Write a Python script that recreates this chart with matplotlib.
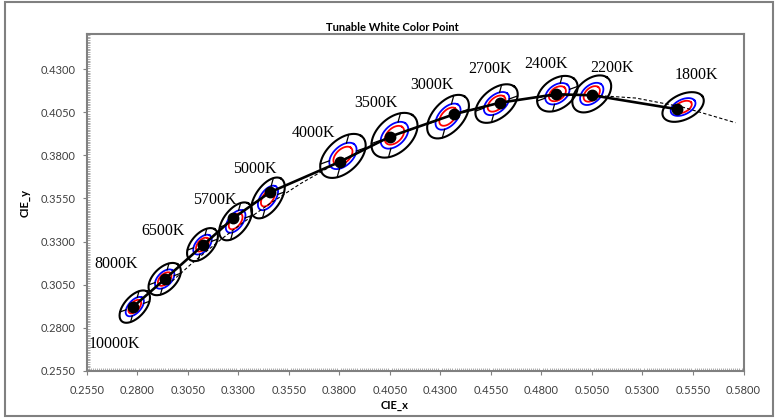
import numpy as np
import matplotlib
matplotlib.use("Agg")
import matplotlib.pyplot as plt
from matplotlib.patches import Rectangle
from matplotlib.ticker import FixedLocator, MultipleLocator, FormatStrFormatter

# CCT targets
cct_labels = ['10000K', '8000K', '6500K', '5700K', '5000K', '4000K',
              '3500K', '3000K', '2700K', '2400K', '2200K', '1800K']

# ellipse centres (nominal chromaticity)
ell_x = [0.2788, 0.2936, 0.3123, 0.3287, 0.3447, 0.3818,
         0.4073, 0.4338, 0.4578, 0.4879, 0.5049, 0.5501]
ell_y = [0.2922, 0.3082, 0.3282, 0.3417, 0.3553, 0.3797,
         0.3917, 0.4025, 0.4101, 0.4158, 0.4157, 0.4081]
# outer ellipse semi-axes and rotation (deg)
ell_a = [0.0107, 0.0107, 0.0108, 0.0122, 0.0130, 0.0147,
         0.0147, 0.0143, 0.0132, 0.0120, 0.0122, 0.0114]
ell_b = [0.0055, 0.0061, 0.0058, 0.0062, 0.0064, 0.0086,
         0.0091, 0.0079, 0.0078, 0.0080, 0.0077, 0.0070]
ell_ang = [56, 54, 57, 60, 62, 52.5, 53.5, 56, 49, 47.5, 52.5, 34]
has_cross = [True, True, True, True, True, True,
             True, True, True, True, False, False]

# measured color points
meas_x = [0.2781, 0.2937, 0.3127, 0.3275, 0.3457, 0.3803,
          0.4051, 0.4368, 0.4595, 0.4872, 0.5052, 0.5473]
meas_y = [0.2922, 0.3082, 0.3280, 0.3435, 0.3586, 0.3763,
          0.3909, 0.4039, 0.4106, 0.4155, 0.4149, 0.4068]

# black body locus
locus_x = [0.2952, 0.3064, 0.3135, 0.3221, 0.3325, 0.3451, 0.3608, 0.3805,
           0.4053, 0.4369, 0.4599, 0.4770, 0.5018, 0.5267, 0.5497, 0.5760]
locus_y = [0.3048, 0.3166, 0.3236, 0.3318, 0.3411, 0.3516, 0.3636, 0.3768,
           0.3907, 0.4041, 0.4106, 0.4137, 0.4152, 0.4133, 0.4081, 0.3990]

# label offsets in points from the measured point
label_off = [(-14, -27), (-35, 11), (-29, 10), (-13, 13), (-11, 17), (-19, 21),
             (-10, 24), (-16, 21), (-7, 24), (-7, 22), (14, 20), (14, 25)]

x_ticks = np.arange(0.255, 0.5801, 0.025)
y_ticks = np.arange(0.255, 0.4301, 0.025)


def ellipse_xy(cx, cy, a, b, ang, scale=1.0):
    t = np.linspace(0, 2 * np.pi, 240)
    th = np.radians(ang)
    ex = a * scale * np.cos(t)
    ey = b * scale * np.sin(t)
    return cx + ex * np.cos(th) - ey * np.sin(th), cy + ex * np.sin(th) + ey * np.cos(th)


def radius(a, b, ang, phi):
    d = np.radians(phi - ang)
    return 1.0 / np.sqrt((np.cos(d) / a) ** 2 + (np.sin(d) / b) ** 2)


fig = plt.figure(figsize=(7.78, 4.19), dpi=100)
ax = fig.add_axes([0.1114, 0.1153, 0.8443, 0.8028])

blue_k, red_k = 0.6, 0.42
for i in range(len(cct_labels)):
    cx, cy, a, b, ang = ell_x[i], ell_y[i], ell_a[i], ell_b[i], ell_ang[i]
    x, y = ellipse_xy(cx, cy, a, b, ang)
    ax.plot(x, y, color='black', lw=1.5, zorder=2)
    x, y = ellipse_xy(cx, cy, a, b, ang, blue_k)
    ax.plot(x, y, color='#0000ff', lw=1.3, zorder=2)
    x, y = ellipse_xy(cx, cy, a, b, ang, red_k)
    ax.plot(x, y, color='#ff0000', lw=1.3, zorder=2)
    if has_cross[i]:
        for phi in (23, 77, 203, 257):
            r = radius(a, b, ang, phi)
            ux, uy = np.cos(np.radians(phi)), np.sin(np.radians(phi))
            ax.plot([cx + blue_k * r * ux, cx + r * ux],
                    [cy + blue_k * r * uy, cy + r * uy],
                    color='black', lw=0.9, zorder=2)

ax.plot(locus_x, locus_y, color='black', lw=0.8, ls=(0, (3, 2)), zorder=3)
ax.plot(meas_x, meas_y, color='black', lw=1.9, zorder=4)
ax.plot(meas_x, meas_y, 'o', color='black', ms=7.5, zorder=5)

for i, lab in enumerate(cct_labels):
    ax.annotate(lab, (meas_x[i], meas_y[i]), xytext=label_off[i],
                textcoords='offset points', ha='center', va='center',
                fontsize=11.5, family='Liberation Serif', zorder=6)

ax.set_xlim(0.255, 0.58)
ax.set_ylim(0.255, 0.4503)
ax.xaxis.set_major_locator(FixedLocator(x_ticks))
ax.yaxis.set_major_locator(FixedLocator(y_ticks))
ax.xaxis.set_minor_locator(MultipleLocator(0.001))
ax.yaxis.set_minor_locator(MultipleLocator(0.001))
ax.xaxis.set_major_formatter(FormatStrFormatter('%.4f'))
ax.yaxis.set_major_formatter(FormatStrFormatter('%.4f'))
ax.tick_params(which='major', direction='out', length=3, width=0.8,
               color='#808080', labelsize=8, labelcolor='#404040')
ax.tick_params(axis='x', which='major', pad=7)
ax.tick_params(axis='y', which='major', pad=5)
ax.tick_params(which='minor', direction='in', length=2, width=0.6,
               color='#a0a0a0')
for lab in ax.get_xticklabels() + ax.get_yticklabels():
    lab.set_family('Lato')

for s in ax.spines.values():
    s.set_color('#808080')
    s.set_linewidth(1.5)

ax.set_xlabel('CIE_x', fontsize=8, fontweight='bold', family='Lato')
ax.set_ylabel('CIE_y', fontsize=8, fontweight='bold', family='Lato')
ax.xaxis.set_label_coords(0.468, -0.087)
ax.yaxis.set_label_coords(-0.086, 0.5)
fig.text(0.504, 0.935, 'Tunable White Color Point', ha='center', va='center',
         fontsize=8, fontweight='bold', family='Lato')

fig.patches.append(Rectangle((0.006, 0.006), 0.988, 0.989, transform=fig.transFigure,
                             fill=False, edgecolor='#808080', lw=1.5))

fig.savefig('out.png', dpi=100)
